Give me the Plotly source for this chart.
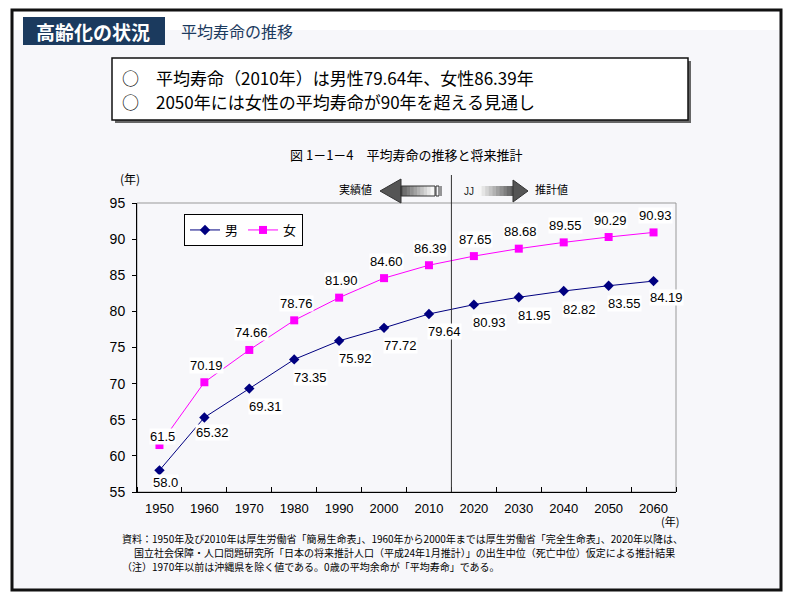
import plotly.graph_objects as go

years = [1950, 1960, 1970, 1980, 1990, 2000, 2010, 2020, 2030, 2040, 2050, 2060]
male = [58.0, 65.32, 69.31, 73.35, 75.92, 77.72, 79.64, 80.93, 81.95, 82.82, 83.55, 84.19]
female = [61.5, 70.19, 74.66, 78.76, 81.90, 84.60, 86.39, 87.65, 88.68, 89.55, 90.29, 90.93]
male_labels = ["58.0", "65.32", "69.31", "73.35", "75.92", "77.72", "79.64", "80.93", "81.95", "82.82", "83.55", "84.19"]
female_labels = ["61.5", "70.19", "74.66", "78.76", "81.90", "84.60", "86.39", "87.65", "88.68", "89.55", "90.29", "90.93"]

W, H = 800, 596
L, R, T, B = 137, 676, 203, 492
JP = "Noto Sans CJK JP"
NUM = "Liberation Sans, Arial, sans-serif"

def px(x):
    return (x - L) / (R - L)

def py(y):
    return (B - y) / (B - T)

fig = go.Figure()
fig.add_trace(go.Scatter(x=years, y=male, name="男", mode="lines+markers",
                         line=dict(color="#000080", width=1),
                         marker=dict(symbol="diamond", size=8, color="#000080")))
fig.add_trace(go.Scatter(x=years, y=female, name="女", mode="lines+markers",
                         line=dict(color="#ff00ff", width=1),
                         marker=dict(symbol="square", size=8, color="#ff00ff")))

shapes = []
ann = []

def prect(x0, y0, x1, y1, **kw):
    shapes.append(dict(type="rect", xref="paper", yref="paper",
                       x0=px(x0), x1=px(x1), y0=py(y0), y1=py(y1), **kw))

def ptext(text, x, y, size, color="black", family=JP, xanchor="center"):
    ann.append(dict(text=text, x=px(x), y=py(y), xref="paper", yref="paper",
                    xanchor=xanchor, yanchor="middle", showarrow=False,
                    font=dict(family=family, size=size, color=color)))

# page frame
prect(12, 10, 781, 590, line=dict(color="#111", width=3), fillcolor="#f7f7fa", layer="below")
prect(14, 12, 779, 30, line=dict(width=0), fillcolor="#ffffff", layer="below")
# header band
prect(23, 17, 165, 45, line=dict(width=0), fillcolor="#1b3a5e", layer="below")
ptext("<b>高齢化の状況</b>", 93, 31, 19, color="white")
ptext("平均寿命の推移", 179, 31, 16, color="#1b3a5e", xanchor="left")
# summary box with shadow
prect(115, 61, 691, 123, line=dict(width=0), fillcolor="#666", layer="below")
prect(112, 58, 688, 120, line=dict(color="#111", width=1.5), fillcolor="#ffffff", layer="below")
ptext("○　平均寿命（2010年）は男性79.64年、女性86.39年", 120, 77, 17, xanchor="left")
ptext("○　2050年には女性の平均寿命が90年を超える見通し", 120, 102, 17, xanchor="left")
# chart title
ptext("図 1－1－4　平均寿命の推移と将来推計", 406, 155, 13)
# plot frame (top/right grey)
prect(L, T, R, B, line=dict(color="#999", width=1), fillcolor="rgba(0,0,0,0)", layer="below")

# vertical divider at boundary between 2010 and 2020
shapes.append(dict(type="line", xref="x", yref="paper", x0=2015, x1=2015,
                   y0=0, y1=py(175), line=dict(color="#333", width=1)))

# arrows (gradient approximated by strips)
def grey(t):
    v = int(85 + (255 - 85) * t)
    return f"rgb({v},{v},{v})"

def ppath(pts):
    return "M " + " L ".join(f"{px(x)},{py(y)}" for x, y in pts) + " Z"

n = 10
sx0, sx1 = 400, 434
for i in range(n):
    a = sx0 + (sx1 - sx0) * i / n
    b = sx0 + (sx1 - sx0) * (i + 1) / n
    prect(a, 186, b + 0.5, 196, line=dict(width=0), fillcolor=grey((i + 0.5) / n))
shapes.append(dict(type="path", xref="paper", yref="paper",
                   path=ppath([(380, 191), (401, 179), (401, 203)]),
                   fillcolor="#555", line=dict(color="#333", width=1)))
shapes.append(dict(type="path", xref="paper", yref="paper",
                   path=ppath([(401, 186), (435, 186), (435, 196), (401, 196)]),
                   fillcolor="rgba(0,0,0,0)", line=dict(color="#333", width=1)))
prect(436, 186, 439, 196, line=dict(color="#333", width=1), fillcolor="rgba(0,0,0,0)")
shapes.append(dict(type="line", xref="paper", yref="paper", x0=px(441), x1=px(441),
                   y0=py(186), y1=py(196), line=dict(color="#333", width=1)))
sx0, sx1 = 478, 514
for i in range(n):
    a = sx0 + (sx1 - sx0) * i / n
    b = sx0 + (sx1 - sx0) * (i + 1) / n
    prect(a, 186, b + 0.5, 196, line=dict(width=0), fillcolor=grey(1 - (i + 0.5) / n))
shapes.append(dict(type="path", xref="paper", yref="paper",
                   path=ppath([(528, 191), (513, 180), (513, 202)]),
                   fillcolor="#555", line=dict(color="#333", width=1)))
ptext("JJ", 469, 191, 10, color="#222", family=NUM)
ptext("実績値", 355, 189, 11)
ptext("推計値", 551, 189, 11)

# axis unit labels
ptext("(年)", 130, 178, 12)
ptext("(年)", 670, 521, 11)

# data labels
f_off = [(3, 9)] + [(2, 17)] * 11
m_off = [(6, -12), (8, -15)] + [(16, -18)] * 9 + [(13, -16)]
for x, y, t, (dx, dy) in zip(years, female, female_labels, f_off):
    ann.append(dict(x=x, y=y, text=t, showarrow=False, xshift=dx, yshift=dy,
                    bgcolor="white", borderpad=0,
                    font=dict(family=NUM, size=13, color="black")))
for x, y, t, (dx, dy) in zip(years, male, male_labels, m_off):
    ann.append(dict(x=x, y=y, text=t, showarrow=False, xshift=dx, yshift=dy,
                    bgcolor="white", borderpad=0,
                    font=dict(family=NUM, size=13, color="black")))

# footnote
notes = [
    (120, 538, "資料：1950年及び2010年は厚生労働省「簡易生命表」、1960年から2000年までは厚生労働省「完全生命表」、2020年以降は、"),
    (132, 552, "国立社会保障・人口問題研究所「日本の将来推計人口（平成24年1月推計）」の出生中位（死亡中位）仮定による推計結果"),
    (120, 566, "（注）1970年以前は沖縄県を除く値である。0歳の平均余命が「平均寿命」である。"),
]
for x, y, t in notes:
    ptext(t, x, y, 10, xanchor="left")

fig.update_layout(
    width=W, height=H,
    margin=dict(l=L, r=W - R, t=T, b=H - B),
    paper_bgcolor="white", plot_bgcolor="rgba(0,0,0,0)",
    shapes=shapes, annotations=ann,
    showlegend=True,
    legend=dict(orientation="h", x=px(184), y=py(214), xanchor="left", yanchor="top",
                bgcolor="white", bordercolor="black", borderwidth=1,
                font=dict(family=JP, size=13, color="black"),
                itemwidth=30, tracegroupgap=0),
    xaxis=dict(range=[1945, 2065], tickvals=years, ticktext=[str(y) for y in years],
               ticks="", showgrid=False, zeroline=False, showline=True,
               linecolor="black", linewidth=1, ticklabelstandoff=4,
               minor=dict(tick0=1945, dtick=10, ticks="inside", ticklen=5, tickcolor="black"),
               tickfont=dict(family=NUM, size=13, color="black")),
    yaxis=dict(range=[55, 95], dtick=5, ticks="outside", ticklen=4, tickcolor="black",
               showgrid=False, zeroline=False, showline=True, linecolor="black", linewidth=1,
               ticklabelstandoff=4,
               tickfont=dict(family=NUM, size=14, color="black")),
)

fig.write_html("out.html", config={"displayModeBar": False},
               post_script="document.body.style.margin='0px';document.body.style.overflow='hidden';")
